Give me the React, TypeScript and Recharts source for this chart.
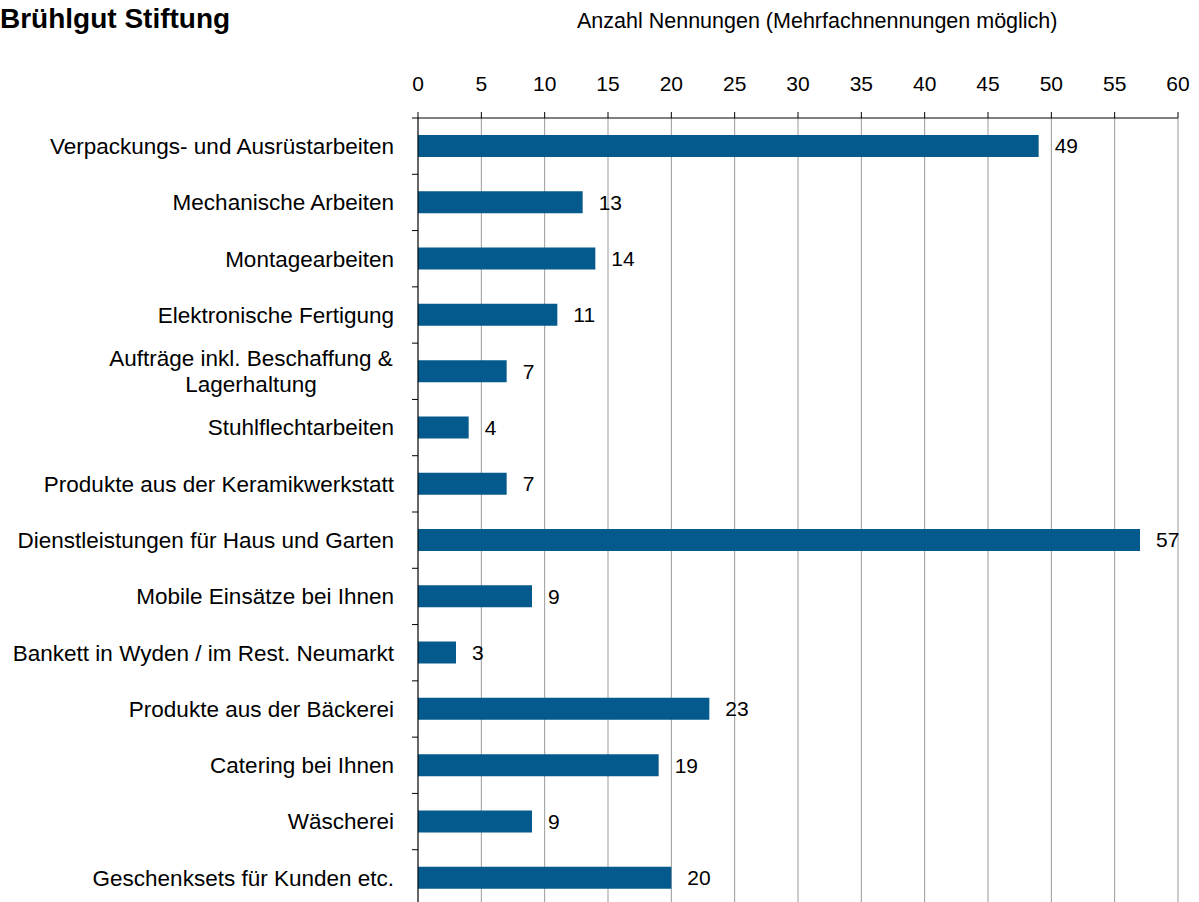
import React from 'react';
import { BarChart, Bar, XAxis, YAxis, CartesianGrid, LabelList } from 'recharts';

const categories = [
  'Verpackungs- und Ausrüstarbeiten',
  'Mechanische Arbeiten',
  'Montagearbeiten',
  'Elektronische Fertigung',
  'Aufträge inkl. Beschaffung &\nLagerhaltung',
  'Stuhlflechtarbeiten',
  'Produkte aus der Keramikwerkstatt',
  'Dienstleistungen für Haus und Garten',
  'Mobile Einsätze bei Ihnen',
  'Bankett in Wyden / im Rest. Neumarkt',
  'Produkte aus der Bäckerei',
  'Catering bei Ihnen',
  'Wäscherei',
  'Geschenksets für Kunden etc.',
];

const counts = [49, 13, 14, 11, 7, 4, 7, 57, 9, 3, 23, 19, 9, 20];

const xTicks = [0, 5, 10, 15, 20, 25, 30, 35, 40, 45, 50, 55, 60];

const data = categories.map((name, i) => ({ name, value: counts[i] }));

const FONT = '"Liberation Sans", Arial, sans-serif';
const BAND = (906 - 118) / categories.length;

function CategoryTick(props: any) {
  const { y, payload } = props;
  const lines = String(payload.value).split('\n');
  return (
    <g>
      <line x1={412} x2={418} y1={y - BAND / 2} y2={y - BAND / 2} stroke="#000" />
      {lines.length === 1 ? (
        <text x={394} y={y} dy="0.35em" textAnchor="end" fontSize={22.5} fill="#000" fontFamily={FONT}>
          {lines[0]}
        </text>
      ) : (
        lines.map((l, i) => (
          <text
            key={i}
            x={251}
            y={y + (i - (lines.length - 1) / 2) * 26}
            dy="0.35em"
            textAnchor="middle"
            fontSize={22.5}
            fill="#000"
            fontFamily={FONT}
          >
            {l}
          </text>
        ))
      )}
    </g>
  );
}

export default function App() {
  return (
    <div
      style={{
        position: 'absolute',
        left: 0,
        top: 0,
        width: 1199,
        height: 902,
        overflow: 'hidden',
        background: '#fff',
        fontFamily: FONT,
      }}
    >
      <div style={{ position: 'absolute', left: 0, top: 3, fontSize: 28, fontWeight: 'bold', color: '#000', whiteSpace: 'nowrap' }}>
        Brühlgut Stiftung
      </div>
      <div style={{ position: 'absolute', left: 577, top: 9, fontSize: 21.5, color: '#000', whiteSpace: 'nowrap' }}>
        Anzahl Nennungen (Mehrfachnennungen möglich)
      </div>
      <BarChart
        width={1199}
        height={906}
        data={data}
        layout="vertical"
        margin={{ top: 60, right: 21, bottom: 0, left: 0 }}
        barCategoryGap="60%"
      >
        <CartesianGrid vertical horizontal={false} stroke="#999" />
        <XAxis
          type="number"
          orientation="top"
          domain={[0, 60]}
          ticks={xTicks}
          height={58}
          stroke="#000"
          tickSize={6}
          tickMargin={21}
          tick={{ fontSize: 21, fill: '#000', fontFamily: FONT }}
        />
        <YAxis
          type="category"
          dataKey="name"
          width={418}
          stroke="#000"
          tickLine={false}
          interval={0}
          tick={<CategoryTick />}
        />
        <Bar dataKey="value" fill="#045a8d" barSize={22} isAnimationActive={false}>
          <LabelList dataKey="value" position="right" offset={16} fill="#000" fontSize={21} fontFamily={FONT} />
        </Bar>
      </BarChart>
    </div>
  );
}
